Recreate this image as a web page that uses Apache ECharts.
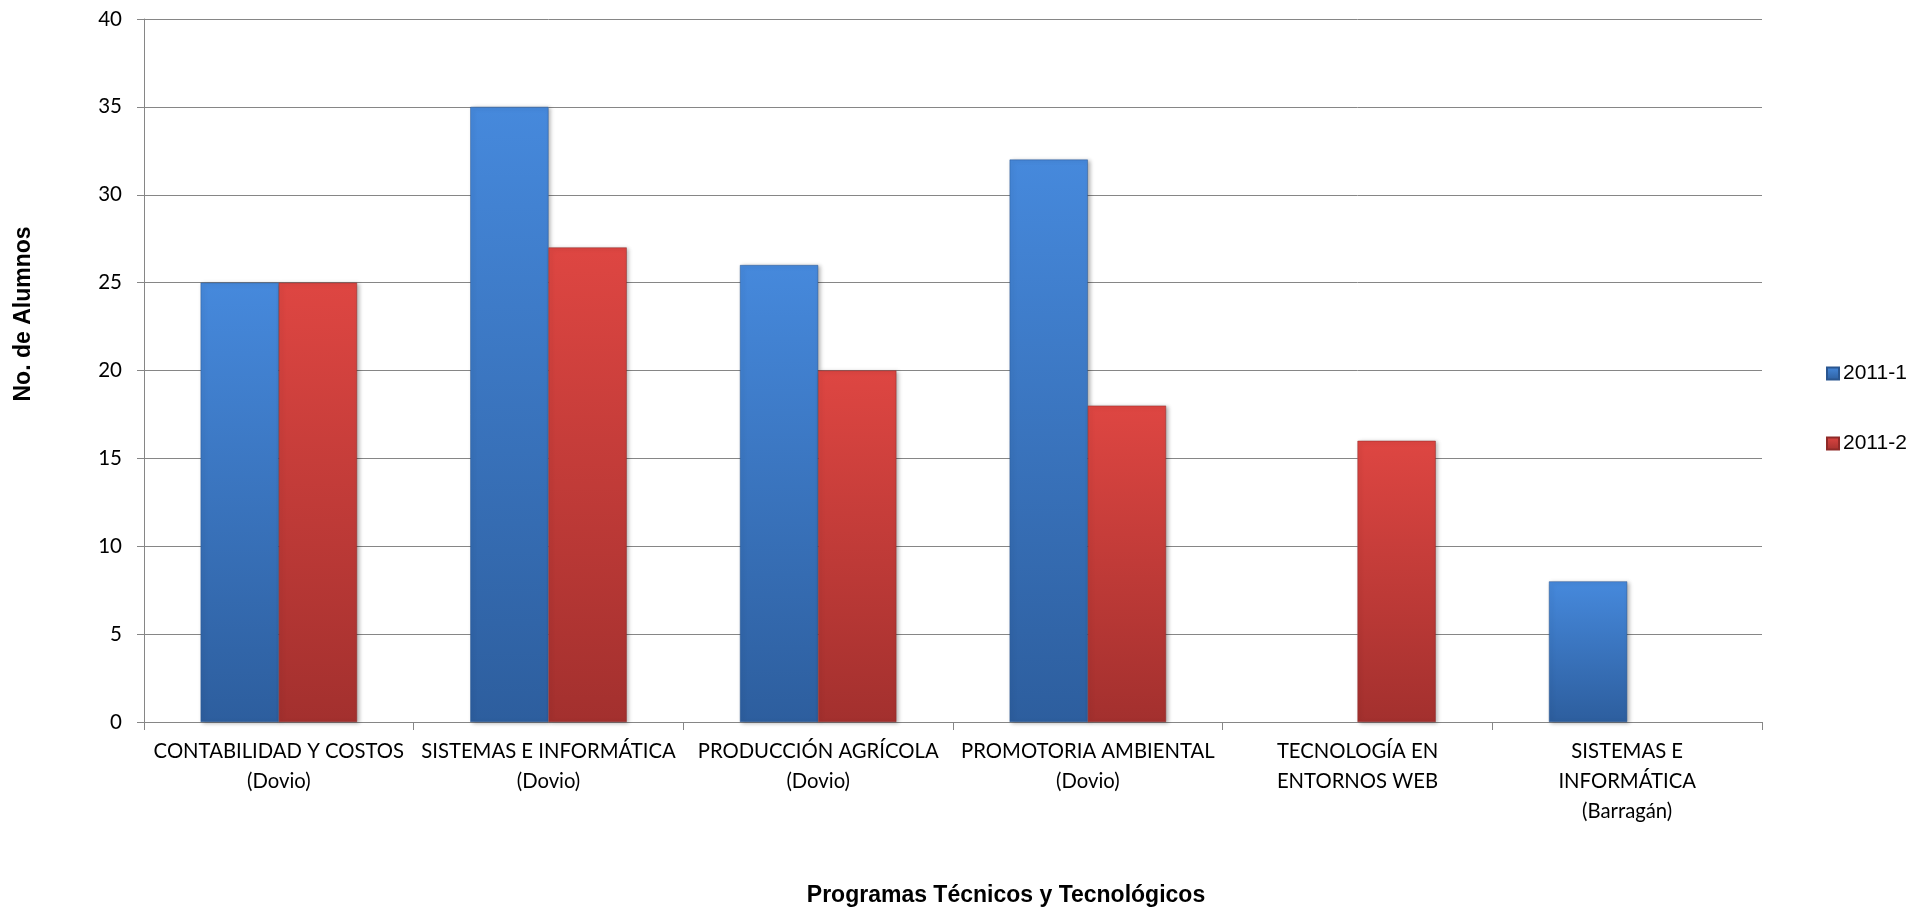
<!DOCTYPE html>
<html>
<head>
<meta charset="utf-8">
<script src="https://cdn.jsdelivr.net/npm/echarts@6/dist/echarts.min.js"></script>
<style>
html,body{margin:0;padding:0;background:#fff;}
#chart{width:1928px;height:909px;}
</style>
</head>
<body>
<div id="chart"></div>
<script>
const categories = [
  'CONTABILIDAD Y COSTOS\n(Dovio)',
  'SISTEMAS E INFORMÁTICA\n(Dovio)',
  'PRODUCCIÓN AGRÍCOLA\n(Dovio)',
  'PROMOTORIA AMBIENTAL\n(Dovio)',
  'TECNOLOGÍA EN\nENTORNOS WEB',
  'SISTEMAS E\nINFORMÁTICA\n(Barragán)'
];
const seriesNames = ['2011-1', '2011-2'];
const values2011_1 = [25, 35, 26, 32, null, 8];
const values2011_2 = [25, 27, 20, 18, 16, null];
const yTitle = 'No. de Alumnos';
const xTitle = 'Programas Técnicos y Tecnológicos';

const blueGrad = new echarts.graphic.LinearGradient(0, 0, 0, 1, [
  {offset: 0, color: '#4689dc'},
  {offset: 1, color: '#2d5e9e'}
]);
const redGrad = new echarts.graphic.LinearGradient(0, 0, 0, 1, [
  {offset: 0, color: '#de4642'},
  {offset: 1, color: '#a3302e'}
]);

const chart = echarts.init(document.getElementById('chart'));
chart.setOption({
  animation: false,
  backgroundColor: '#ffffff',
  grid: {left: 144, right: 166, top: 19, bottom: 187},
  legend: {
    orient: 'vertical',
    left: 1821,
    top: 358,
    itemWidth: 12,
    itemHeight: 12,
    itemGap: 49,
    icon: 'rect',
    textStyle: {fontFamily: 'Liberation Sans, Arial, sans-serif', fontSize: 21, color: '#000', lineHeight: 21, padding: [0,0,0,-1]},
    data: seriesNames
  },
  xAxis: {
    type: 'category',
    data: categories,
    axisLine: {lineStyle: {color: '#868686', width: 1}},
    axisTick: {show: true, length: 8, alignWithLabel: false, lineStyle: {color: '#868686'}},
    axisLabel: {
      interval: 0,
      margin: 14,
      fontFamily: 'Lato, sans-serif',
      fontSize: 20.3,
      lineHeight: 30,
      color: '#000'
    }
  },
  yAxis: {
    type: 'value',
    min: 0,
    max: 40,
    interval: 5,
    axisLine: {show: true, lineStyle: {color: '#868686', width: 1}},
    axisTick: {show: true, length: 7, lineStyle: {color: '#868686'}},
    splitLine: {lineStyle: {color: '#868686', width: 1}},
    axisLabel: {
      margin: 22,
      fontFamily: 'Lato, sans-serif',
      fontSize: 20.5,
      color: '#000'
    }
  },
  graphic: [
    {
      type: 'text',
      x: 24, y: 314,
      rotation: Math.PI / 2,
      style: {text: yTitle, font: 'bold 23px "Liberation Sans", Arial, sans-serif', fill: '#000', align: 'center', verticalAlign: 'middle'}
    },
    {
      type: 'text',
      x: 1006, y: 896,
      style: {text: xTitle, font: 'bold 23px "Liberation Sans", Arial, sans-serif', fill: '#000', align: 'center', verticalAlign: 'middle'}
    }
  ],
  series: [
    {
      name: seriesNames[0],
      type: 'bar',
      data: values2011_1,
      barGap: '0%',
      barCategoryGap: '42%',
      itemStyle: {color: blueGrad, borderColor: '#2a5690', borderWidth: 0.5, shadowBlur: 4, shadowColor: 'rgba(0,0,0,0.3)', shadowOffsetX: 2, shadowOffsetY: 1}
    },
    {
      name: seriesNames[1],
      type: 'bar',
      data: values2011_2,
      barGap: '0%',
      barCategoryGap: '42%',
      itemStyle: {color: redGrad, borderColor: '#8f2a28', borderWidth: 0.5, shadowBlur: 4, shadowColor: 'rgba(0,0,0,0.3)', shadowOffsetX: 2, shadowOffsetY: 1}
    }
  ]
});
</script>
</body>
</html>
